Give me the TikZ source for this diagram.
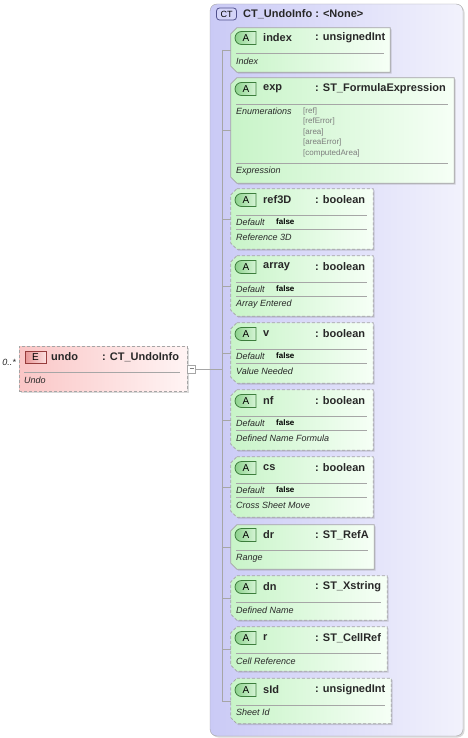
\documentclass[tikz,border=0pt]{standalone}
\usepackage{fontspec}
\setmainfont{Liberation Sans}
\usetikzlibrary{positioning, shapes.misc, shadows}
\definecolor{ctleft}{RGB}{202,202,246}
\definecolor{ctright}{RGB}{242,242,252}
\definecolor{attrleft}{RGB}{200,244,200}
\definecolor{attrright}{RGB}{246,255,246}
\definecolor{abadgeleft}{RGB}{140,210,140}
\definecolor{abadgeright}{RGB}{215,245,215}
\definecolor{abadgeedge}{RGB}{60,125,60}
\definecolor{elemleft}{RGB}{250,198,198}
\definecolor{elemright}{RGB}{255,244,244}
\definecolor{ebadgeleft}{RGB}{232,150,150}
\definecolor{ebadgeright}{RGB}{252,222,222}
\definecolor{ebadgeedge}{RGB}{150,60,60}
\definecolor{ctbadge}{RGB}{212,212,248}
\definecolor{ctbadgeedge}{RGB}{80,80,140}
\definecolor{txtdark}{RGB}{40,40,40}
\definecolor{enumgray}{RGB}{125,125,125}
\definecolor{edgegray}{RGB}{165,165,165}

\begin{document}
\begin{tikzpicture}[x=1pt, y=-1pt,
  attr/.style={rectangle, inner sep=0pt},
  attrface/.style={draw=edgegray, line width=0.7pt, left color=attrleft, right color=attrright,
    drop shadow={shadow xshift=1.5pt, shadow yshift=-1.5pt, opacity=0.3}},
  optional/.style={dash pattern=on 3pt off 2pt},
  abadge/.style={rounded rectangle, rounded rectangle right arc=none, draw=abadgeedge, line width=0.8pt,
    left color=abadgeleft, right color=abadgeright, minimum width=21pt, minimum height=13pt,
    inner sep=0pt, font=\fontsize{10}{10}\selectfont},
  hname/.style={anchor=west, inner sep=0pt, text=txtdark, font=\bfseries\fontsize{11}{11}\selectfont},
  desc/.style={anchor=west, inner sep=0pt, text=txtdark, font=\itshape\fontsize{9}{9}\selectfont},
  dflt/.style={anchor=west, inner sep=0pt, font=\bfseries\fontsize{8}{8}\selectfont},
  enum/.style={anchor=west, inner sep=0pt, text=enumgray, font=\fontsize{8}{8}\selectfont},
  sep/.style={draw=gray!70, line width=0.6pt},
  wire/.style={draw=gray!70, line width=0.7pt},
]
  \useasboundingbox (0,0) rectangle (467,738);

  % complex type
  \node[draw=edgegray, rounded corners=7pt, left color=ctleft, right color=ctright,
    drop shadow={shadow xshift=1.5pt, shadow yshift=-1.5pt, opacity=0.3},
    minimum width=253pt, minimum height=732pt, inner sep=0pt] (undoinfo) at (336.5,370) {};
  \node[draw=ctbadgeedge, line width=0.8pt, fill=ctbadge, rounded corners=3pt, minimum width=20pt,
    minimum height=12pt, inner sep=0pt, font=\fontsize{9}{9}\selectfont] (ctbadge) at (226.5,14) {CT};
  \node[hname] (cttitle) at (243,14) {CT\_UndoInfo : <None>};

  % element
  \node[draw=edgegray, line width=0.7pt, optional, left color=elemleft, right color=elemright,
    drop shadow={shadow xshift=1.5pt, shadow yshift=-1.5pt, opacity=0.3},
    minimum width=168pt, minimum height=45pt, inner sep=0pt] (undo) at (103,368.5) {};
  \node[draw=ebadgeedge, line width=0.8pt, left color=ebadgeleft, right color=ebadgeright,
    minimum width=21pt, minimum height=12pt, inner sep=0pt, font=\fontsize{10}{10}\selectfont]
    (ebadge) at (35.5,357.5) {E};
  \node[hname] (undoname) at (51,357) {undo};
  \node[hname] (undotype) at (102,357) {: CT\_UndoInfo};
  \draw[sep] (24,372) -- (180,372);
  \node[desc] (undodesc) at (24,380) {Undo};
  \node[desc, anchor=east] (undocard) at (16,362) {0..*};
  \node[draw=gray!70, fill=white, minimum size=8pt, inner sep=0pt] (undominus) at (191.5,369)
    {\color{gray}\rule[2pt]{4pt}{0.6pt}};

  % attributes
  \node[attr, minimum width=159pt, minimum height=44pt] (index) at (310.5,50) {};
  \path[attrface] ([xshift=6pt]index.north west) -- (index.north east) -- (index.south east)
    -- ([xshift=6pt]index.south west) -- ([yshift=6pt]index.south west) -- ([yshift=-6pt]index.north west) -- cycle;
  \node[abadge] (indexA) at (246,38) {A};
  \node[hname] at (263,38) {index};
  \node[hname] at (315,38) {: unsignedInt};
  \draw[sep] (236,53) -- (384,53);
  \node[desc] at (236,61) {Index};

  \node[attr, minimum width=223pt, minimum height=105pt] (exp) at (342.5,130.5) {};
  \path[attrface] ([xshift=6pt]exp.north west) -- (exp.north east) -- (exp.south east)
    -- ([xshift=6pt]exp.south west) -- ([yshift=6pt]exp.south west) -- ([yshift=-6pt]exp.north west) -- cycle;
  \node[abadge] (expA) at (246,89) {A};
  \node[hname] at (263,89) {exp};
  \node[hname] at (315,89) {: ST\_FormulaExpression};
  \draw[sep] (236,104) -- (448,104);
  \node[desc] at (236,111) {Enumerations};
  \node[enum] at (303,111) {[ref]};
  \node[enum] at (303,121.5) {[refError]};
  \node[enum] at (303,132) {[area]};
  \node[enum] at (303,142.5) {[areaError]};
  \node[enum] at (303,153) {[computedArea]};
  \draw[sep] (236,163) -- (448,163);
  \node[desc] at (236,171) {Expression};

  \node[attr, minimum width=142pt, minimum height=60pt] (ref3D) at (302,219) {};
  \path[attrface, optional] ([xshift=6pt]ref3D.north west) -- (ref3D.north east) -- (ref3D.south east)
    -- ([xshift=6pt]ref3D.south west) -- ([yshift=6pt]ref3D.south west) -- ([yshift=-6pt]ref3D.north west) -- cycle;
  \node[abadge] (ref3DA) at (246,200) {A};
  \node[hname] at (263,200) {ref3D};
  \node[hname] at (315,200) {: boolean};
  \draw[sep] (236,215) -- (367,215);
  \node[desc] at (236,222) {Default};
  \node[dflt] at (276,222) {false};
  \draw[sep] (236,229) -- (367,229);
  \node[desc] at (236,237) {Reference 3D};

  \node[attr, minimum width=142pt, minimum height=60pt] (array) at (302,286) {};
  \path[attrface, optional] ([xshift=6pt]array.north west) -- (array.north east) -- (array.south east)
    -- ([xshift=6pt]array.south west) -- ([yshift=6pt]array.south west) -- ([yshift=-6pt]array.north west) -- cycle;
  \node[abadge] (arrayA) at (246,267) {A};
  \node[hname] at (263,267) {array};
  \node[hname] at (315,267) {: boolean};
  \draw[sep] (236,282) -- (367,282);
  \node[desc] at (236,289) {Default};
  \node[dflt] at (276,289) {false};
  \draw[sep] (236,296) -- (367,296);
  \node[desc] at (236,304) {Array Entered};

  \node[attr, minimum width=142pt, minimum height=60pt] (v) at (302,353) {};
  \path[attrface, optional] ([xshift=6pt]v.north west) -- (v.north east) -- (v.south east)
    -- ([xshift=6pt]v.south west) -- ([yshift=6pt]v.south west) -- ([yshift=-6pt]v.north west) -- cycle;
  \node[abadge] (vA) at (246,334) {A};
  \node[hname] at (263,334) {v};
  \node[hname] at (315,334) {: boolean};
  \draw[sep] (236,349) -- (367,349);
  \node[desc] at (236,356) {Default};
  \node[dflt] at (276,356) {false};
  \draw[sep] (236,363) -- (367,363);
  \node[desc] at (236,371) {Value Needed};

  \node[attr, minimum width=142pt, minimum height=60pt] (nf) at (302,420) {};
  \path[attrface, optional] ([xshift=6pt]nf.north west) -- (nf.north east) -- (nf.south east)
    -- ([xshift=6pt]nf.south west) -- ([yshift=6pt]nf.south west) -- ([yshift=-6pt]nf.north west) -- cycle;
  \node[abadge] (nfA) at (246,401) {A};
  \node[hname] at (263,401) {nf};
  \node[hname] at (315,401) {: boolean};
  \draw[sep] (236,416) -- (367,416);
  \node[desc] at (236,423) {Default};
  \node[dflt] at (276,423) {false};
  \draw[sep] (236,430) -- (367,430);
  \node[desc] at (236,438) {Defined Name Formula};

  \node[attr, minimum width=142pt, minimum height=60pt] (cs) at (302,487) {};
  \path[attrface, optional] ([xshift=6pt]cs.north west) -- (cs.north east) -- (cs.south east)
    -- ([xshift=6pt]cs.south west) -- ([yshift=6pt]cs.south west) -- ([yshift=-6pt]cs.north west) -- cycle;
  \node[abadge] (csA) at (246,468) {A};
  \node[hname] at (263,468) {cs};
  \node[hname] at (315,468) {: boolean};
  \draw[sep] (236,483) -- (367,483);
  \node[desc] at (236,490) {Default};
  \node[dflt] at (276,490) {false};
  \draw[sep] (236,497) -- (367,497);
  \node[desc] at (236,505) {Cross Sheet Move};

  \node[attr, minimum width=143pt, minimum height=44pt] (dr) at (302.5,547) {};
  \path[attrface] ([xshift=6pt]dr.north west) -- (dr.north east) -- (dr.south east)
    -- ([xshift=6pt]dr.south west) -- ([yshift=6pt]dr.south west) -- ([yshift=-6pt]dr.north west) -- cycle;
  \node[abadge] (drA) at (246,535) {A};
  \node[hname] at (263,535) {dr};
  \node[hname] at (315,535) {: ST\_RefA};
  \draw[sep] (236,550) -- (368,550);
  \node[desc] at (236,558) {Range};

  \node[attr, minimum width=156pt, minimum height=44pt] (dn) at (309,598) {};
  \path[attrface, optional] ([xshift=6pt]dn.north west) -- (dn.north east) -- (dn.south east)
    -- ([xshift=6pt]dn.south west) -- ([yshift=6pt]dn.south west) -- ([yshift=-6pt]dn.north west) -- cycle;
  \node[abadge] (dnA) at (246,587) {A};
  \node[hname] at (263,587) {dn};
  \node[hname] at (315,587) {: ST\_Xstring};
  \draw[sep] (236,602) -- (381,602);
  \node[desc] at (236,610) {Defined Name};

  \node[attr, minimum width=156pt, minimum height=44pt] (r) at (309,649) {};
  \path[attrface, optional] ([xshift=6pt]r.north west) -- (r.north east) -- (r.south east)
    -- ([xshift=6pt]r.south west) -- ([yshift=6pt]r.south west) -- ([yshift=-6pt]r.north west) -- cycle;
  \node[abadge] (rA) at (246,638) {A};
  \node[hname] at (263,638) {r};
  \node[hname] at (315,638) {: ST\_CellRef};
  \draw[sep] (236,653) -- (381,653);
  \node[desc] at (236,661) {Cell Reference};

  \node[attr, minimum width=160pt, minimum height=45pt] (sId) at (311,701) {};
  \path[attrface, optional] ([xshift=6pt]sId.north west) -- (sId.north east) -- (sId.south east)
    -- ([xshift=6pt]sId.south west) -- ([yshift=6pt]sId.south west) -- ([yshift=-6pt]sId.north west) -- cycle;
  \node[abadge] (sIdA) at (246,690) {A};
  \node[hname] at (263,690) {sId};
  \node[hname] at (315,690) {: unsignedInt};
  \draw[sep] (236,705) -- (385,705);
  \node[desc] at (236,712) {Sheet Id};

  % connectors
  \coordinate (spine) at (222,369);
  \draw[wire] (undominus.east) -- (spine);
  \draw[wire] (spine |- index.west) -- (spine |- sId.west);
  \draw[wire] (spine |- index.west) -- (index.west);
  \draw[wire] (spine |- exp.west) -- (exp.west);
  \draw[wire] (spine |- ref3D.west) -- (ref3D.west);
  \draw[wire] (spine |- array.west) -- (array.west);
  \draw[wire] (spine |- v.west) -- (v.west);
  \draw[wire] (spine |- nf.west) -- (nf.west);
  \draw[wire] (spine |- cs.west) -- (cs.west);
  \draw[wire] (spine |- dr.west) -- (dr.west);
  \draw[wire] (spine |- dn.west) -- (dn.west);
  \draw[wire] (spine |- r.west) -- (r.west);
  \draw[wire] (spine |- sId.west) -- (sId.west);
\end{tikzpicture}
\end{document}
